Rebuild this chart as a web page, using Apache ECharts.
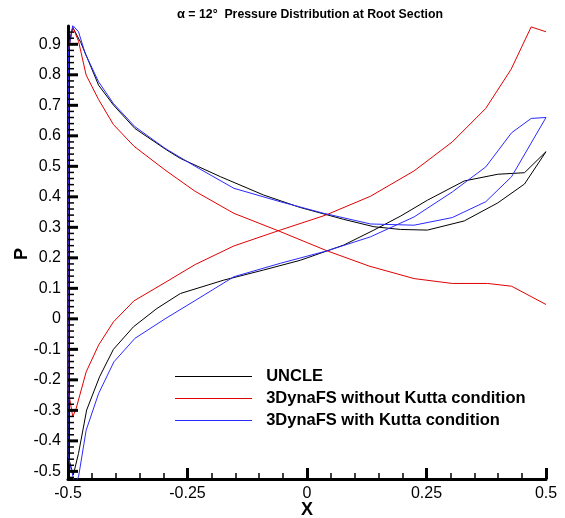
<!DOCTYPE html>
<html><head><meta charset="utf-8">
<script src="https://cdn.jsdelivr.net/npm/echarts@6/dist/echarts.min.js"></script>
<style>html,body{margin:0;padding:0;background:#fff}#c{width:565px;height:518px}</style>
</head><body><div id="c"></div>
<script>
const seriesNames = ['UNCLE', '3DynaFS without Kutta condition', '3DynaFS with Kutta condition'];

const uncleX = [0.5, 0.455, 0.399, 0.329, 0.252, 0.196, 0.140, 0.077, -0.014, -0.091, -0.174, -0.265, -0.314, -0.363, -0.405, -0.434, -0.461, -0.478, -0.489, -0.5, -0.499, -0.490, -0.473, -0.436, -0.405, -0.360, -0.293, -0.265, -0.181, -0.091, -0.014, 0.077, 0.140, 0.196, 0.252, 0.329, 0.399, 0.455, 0.5];
const uncleP = [0.548, 0.479, 0.474, 0.452, 0.389, 0.337, 0.291, 0.242, 0.192, 0.160, 0.127, 0.083, 0.034, -0.026, -0.100, -0.190, -0.299, -0.441, -0.512, -0.45, 0.90, 0.955, 0.905, 0.766, 0.701, 0.624, 0.553, 0.526, 0.466, 0.406, 0.365, 0.326, 0.302, 0.293, 0.291, 0.321, 0.380, 0.442, 0.548];

const noKuttaX = [0.5, 0.469, 0.427, 0.374, 0.304, 0.224, 0.133, 0.039, -0.056, -0.153, -0.234, -0.297, -0.362, -0.405, -0.436, -0.462, -0.483, -0.490, -0.5, -0.499, -0.490, -0.478, -0.462, -0.436, -0.405, -0.362, -0.297, -0.234, -0.153, -0.059, 0.042, 0.130, 0.224, 0.304, 0.378, 0.428, 0.5];
const noKuttaP = [0.941, 0.957, 0.818, 0.690, 0.580, 0.485, 0.402, 0.340, 0.291, 0.239, 0.178, 0.119, 0.059, -0.010, -0.086, -0.174, -0.294, -0.321, -0.23, 0.88, 0.957, 0.91, 0.799, 0.719, 0.637, 0.566, 0.488, 0.418, 0.346, 0.288, 0.223, 0.173, 0.132, 0.116, 0.116, 0.107, 0.047];

const kuttaX = [0.5, 0.469, 0.428, 0.374, 0.304, 0.224, 0.133, 0.042, -0.056, -0.153, -0.234, -0.297, -0.360, -0.404, -0.436, -0.462, -0.478, -0.486, -0.5, -0.499, -0.490, -0.478, -0.464, -0.436, -0.405, -0.360, -0.297, -0.234, -0.153, -0.056, 0.035, 0.133, 0.224, 0.304, 0.374, 0.428, 0.5];
const kuttaP = [0.660, 0.657, 0.610, 0.498, 0.416, 0.334, 0.269, 0.223, 0.182, 0.138, 0.060, 0.0, -0.064, -0.141, -0.245, -0.365, -0.518, -0.54, -0.45, 0.88, 0.962, 0.941, 0.870, 0.777, 0.706, 0.630, 0.559, 0.50, 0.428, 0.384, 0.346, 0.311, 0.307, 0.332, 0.384, 0.466, 0.660];

const yLabels = [-0.5, -0.4, -0.3, -0.2, -0.1, 0, 0.1, 0.2, 0.3, 0.4, 0.5, 0.6, 0.7, 0.8, 0.9];

const yMinorTicks = [];
for (let i = -26; i <= 47; i++) { if (i % 5 !== 0) yMinorTicks.push(+(i * 0.02).toFixed(2)); }

const zip = (xs, ys) => xs.map((x, i) => [x, ys[i]]);
const FONT = "'Liberation Sans', Arial, sans-serif";
const colors = ['#000000', '#e00000', '#2a2aff'];
const X_MIN = -0.5;

// tick data for the custom y-axis tick series: [x at axis, value, isMajor]
const yTickData = yLabels.map(v => [X_MIN, v, 1]).concat(yMinorTicks.map(v => [X_MIN, v, 0]));

const chart = echarts.init(document.getElementById('c'));
chart.setOption({
  animation: false,
  title: {
    text: '{a|α}{b| = 12°  Pressure Distribution at Root Section}',
    left: 305, top: 3, textAlign: 'center',
    textStyle: {
      rich: {
        a: {fontFamily: FONT, fontSize: 13, color: '#000'},
        b: {fontFamily: FONT, fontSize: 12.3, fontWeight: 'bold', color: '#000'}
      }
    }
  },
  graphic: [
    {type: 'text', x: 22, y: 254, rotation: Math.PI / 2,
     style: {text: 'P', font: "bold 18px 'Liberation Sans', Arial, sans-serif", fill: '#000', align: 'center', verticalAlign: 'middle'}},
    {type: 'text', x: 307, y: 510,
     style: {text: 'X', font: "bold 18px 'Liberation Sans', Arial, sans-serif", fill: '#000', align: 'center', verticalAlign: 'middle'}}
  ],
  grid: [{left: 68, right: 19, top: 26, bottom: 39, containLabel: false, outerBoundsMode: 'none'}],
  legend: {
    orient: 'vertical', left: 175, top: 368, padding: 0,
    itemWidth: 77, itemHeight: 1.2, itemGap: 5, icon: 'rect',
    data: seriesNames,
    formatter: name => '  ' + name,
    textStyle: {fontFamily: FONT, fontSize: 16.5, fontWeight: 'bold', color: '#000'}
  },
  xAxis: [{
    type: 'value', min: X_MIN, max: 0.5, interval: 0.25, splitLine: {show: false},
    axisLine: {show: true, onZero: false, lineStyle: {color: '#000', width: 3}},
    axisTick: {show: true, inside: true, length: 11, lineStyle: {color: '#000', width: 3}},
    minorTick: {show: true, splitNumber: 5, length: 6, lineStyle: {color: '#000', width: 1.5}},
    axisLabel: {margin: 7, fontFamily: FONT, fontSize: 16, color: '#000'}
  }],
  yAxis: [{
    type: 'value', min: -0.525, max: 0.96, splitNumber: 15, splitLine: {show: false},
    axisLine: {show: true, onZero: false, lineStyle: {color: '#000', width: 3}},
    axisTick: {show: false},
    minorTick: {show: false},
    axisLabel: {customValues: yLabels, margin: 7, fontFamily: FONT, fontSize: 16, color: '#000'}
  }],
  series: seriesNames.map((name, k) => ({
    name, type: 'line', symbol: 'none',
    data: [zip(uncleX, uncleP), zip(noKuttaX, noKuttaP), zip(kuttaX, kuttaP)][k],
    lineStyle: {color: colors[k], width: 1}, itemStyle: {color: colors[k]}
  })).concat([{
    name: 'yTicks', type: 'custom', silent: true, clip: false, z: 5,
    data: yTickData,
    renderItem: (params, api) => {
      const p = api.coord([api.value(0), api.value(1)]);
      const major = api.value(2) === 1;
      return {
        type: 'line',
        shape: {x1: p[0], y1: p[1], x2: p[0] + (major ? 10 : 6), y2: p[1]},
        style: {stroke: '#000', lineWidth: major ? 3 : 1.5}
      };
    }
  }])
});
</script>
</body></html>
